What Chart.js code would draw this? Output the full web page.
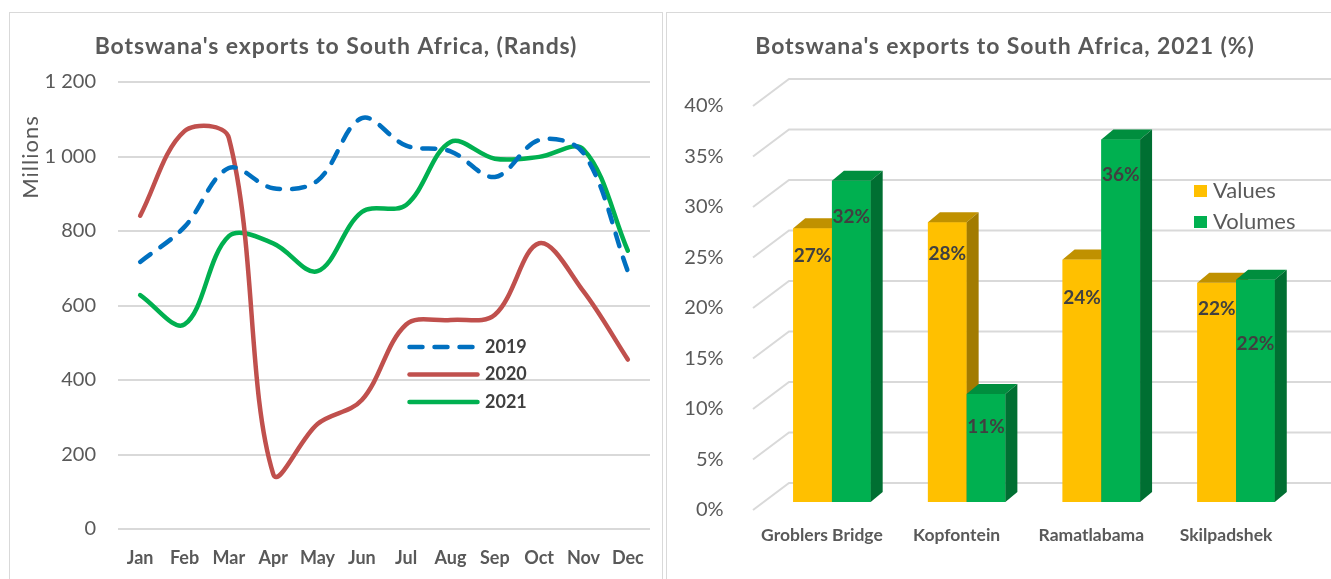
<!DOCTYPE html>
<html><head><meta charset="utf-8">
<script src="https://cdn.jsdelivr.net/npm/chart.js@4.4.1/dist/chart.umd.min.js"></script>
<style>
html,body{margin:0;padding:0;background:#fff;width:1331px;height:579px;overflow:hidden;font-family:Lato,sans-serif;}
.panel{position:absolute;border:1.5px solid #d9d9d9;box-sizing:border-box;}
.wrap{position:absolute;top:0;}
</style></head><body>
<div class="panel" style="left:9px;top:12px;width:654px;height:600px"></div>
<div class="panel" style="left:666px;top:12px;width:700px;height:600px"></div>
<div class="wrap" style="left:0;width:665px;height:579px"><canvas id="c1" width="665" height="579"></canvas></div>
<div class="wrap" style="left:665px;width:666px;height:579px"><canvas id="c2" width="666" height="579"></canvas></div>
<script>
// ---------- data: left chart ----------
const months = ['Jan','Feb','Mar','Apr','May','Jun','Jul','Aug','Sep','Oct','Nov','Dec'];
const exports2019 = [717, 811, 969, 915, 935, 1103, 1029, 1014, 945, 1044, 1009, 692];
const exports2020 = [841, 1068, 1050, 148, 282, 346, 549, 561, 575, 767, 638, 455];
const exports2021 = [628, 549, 786, 767, 692, 851, 870, 1039, 994, 999, 1019, 747];
const randTickLabels = ['0','200','400','600','800','1 000','1 200'];
const leftTitle = "Botswana's exports to South Africa, (Rands)";
const leftAxisTitle = 'Millions';

// ---------- data: right chart ----------
const crossings = ['Groblers Bridge','Kopfontein','Ramatlabama','Skilpadshek'];
const valuesShare = [27.1, 27.7, 24.0, 21.7];
const volumesShare = [31.8, 10.7, 35.9, 22.0];
const pctTickLabels = ['0%','5%','10%','15%','20%','25%','30%','35%','40%'];
const rightTitle = "Botswana's exports to South Africa, 2021 (%)";

const GREY = '#595959';

function drawTitle(ctx, text, x, y) {
  ctx.save();
  ctx.fillStyle = GREY;
  ctx.font = 'bold 23px Lato';
  ctx.letterSpacing = '0.9px';
  ctx.textAlign = 'center';
  ctx.textBaseline = 'middle';
  ctx.fillText(text, x, y);
  ctx.restore();
}

// ---------- left chart plugins ----------
const leftDecor = {
  id: 'leftDecor',
  afterDraw(chart) {
    const ctx = chart.ctx;
    drawTitle(ctx, leftTitle, 336, 47);
    ctx.save();
    ctx.fillStyle = GREY;
    ctx.textAlign = 'center';
    ctx.textBaseline = 'middle';
    // axis title
    ctx.save();
    ctx.translate(31, 157);
    ctx.rotate(-Math.PI / 2);
    ctx.font = '22px Lato';
    ctx.letterSpacing = '1px';
    ctx.fillText(leftAxisTitle, 0, 0);
    ctx.restore();
    // legend
    chart.data.datasets.forEach((ds, i) => {
      const y = 347 + 27.5 * i;
      ctx.beginPath();
      ctx.strokeStyle = ds.borderColor;
      ctx.lineWidth = ds.borderWidth;
      ctx.lineCap = 'round';
      ctx.setLineDash(ds.borderDash || []);
      ctx.moveTo(409.5, y);
      ctx.lineTo(477.5, y);
      ctx.stroke();
      ctx.setLineDash([]);
      ctx.fillStyle = '#404040';
      ctx.font = 'bold 18px Lato';
      ctx.textAlign = 'left';
      ctx.fillText(ds.label, 485, y);
    });
    ctx.restore();
  }
};

new Chart(document.getElementById('c1'), {
  type: 'line',
  data: {
    labels: months,
    datasets: [
      {label:'2019', data:exports2019, borderColor:'#0070C0', borderWidth:4.5, borderDash:[13,12], borderCapStyle:'round', tension:0.35, pointRadius:0, fill:false},
      {label:'2020', data:exports2020, borderColor:'#C0504D', borderWidth:4.5, borderCapStyle:'round', tension:0.35, pointRadius:0, fill:false},
      {label:'2021', data:exports2021, borderColor:'#00B050', borderWidth:4.5, borderCapStyle:'round', tension:0.35, pointRadius:0, fill:false}
    ]
  },
  options: {
    responsive:false, animation:false, devicePixelRatio:1,
    layout:{padding:{top:82, right:15, left:0, bottom:0}},
    plugins:{legend:{display:false}, tooltip:{enabled:false}, title:{display:false}},
    scales:{
      x:{offset:true, grid:{display:false}, border:{display:false},
         ticks:{color:GREY, font:{family:'Lato', size:18, weight:'bold'}, padding:10, maxRotation:0, autoSkip:false},
         afterFit(s){ s.height = 50; }},
      y:{min:0, max:1200,
         ticks:{stepSize:200, color:GREY, font:{family:'Lato', size:20}, padding:22, callback:(v,i)=>randTickLabels[i]},
         grid:{color:'#d9d9d9', lineWidth:2, drawTicks:false}, border:{display:false},
         afterFit(s){ s.width = 118; }}
    }
  },
  plugins:[leftDecor]
});

// ---------- right chart plugins ----------
const DX = 12, DY = 10;
const wallGrid = {
  id: 'wallGrid',
  beforeDatasetsDraw(chart) {
    const ctx = chart.ctx, ys = chart.scales.y, a = chart.chartArea;
    ctx.save();
    ctx.strokeStyle = '#d9d9d9';
    ctx.lineWidth = 2;
    ys.ticks.forEach(t => {
      const yb = ys.getPixelForValue(t.value);
      ctx.beginPath();
      ctx.moveTo(a.left - 11.6, yb + 8);
      ctx.lineTo(a.left + 24.4, yb - 19);
      ctx.lineTo(chart.width, yb - 19);
      ctx.stroke();
    });
    ctx.restore();
  }
};
// paints the bars as 3D prisms (front, top, side) from the bar elements, series in legend order
const depth = {
  id: 'depth',
  afterDatasetsDraw(chart) {
    const ctx = chart.ctx;
    ctx.save();
    const n = chart.data.labels.length;
    for (let i = 0; i < n; i++) {
      chart.data.datasets.forEach((ds, di) => {
        const el = chart.getDatasetMeta(di).data[i];
        const p = el.getProps(['x','y','base','width'], true);
        const l = p.x - p.width/2, r = p.x + p.width/2;
        ctx.fillStyle = ds.backgroundColor;
        ctx.fillRect(l, p.y, p.width, p.base - p.y);
        ctx.fillStyle = ds.topColor;
        ctx.beginPath();
        ctx.moveTo(l, p.y); ctx.lineTo(l + DX, p.y - DY); ctx.lineTo(r + DX, p.y - DY); ctx.lineTo(r, p.y);
        ctx.closePath(); ctx.fill();
        ctx.fillStyle = ds.sideColor;
        ctx.beginPath();
        ctx.moveTo(r, p.y); ctx.lineTo(r + DX, p.y - DY); ctx.lineTo(r + DX, p.base - DY); ctx.lineTo(r, p.base);
        ctx.closePath(); ctx.fill();
      });
    }
    ctx.restore();
  }
};
const labelShift = [[28, 32, 38, 26], [36, 33, 35, 64]];
const rightDecor = {
  id: 'rightDecor',
  afterDraw(chart) {
    const ctx = chart.ctx;
    ctx.save();
    ctx.textAlign = 'center';
    ctx.textBaseline = 'middle';
    // data labels
    ctx.font = 'bold 19px Lato';
    ctx.fillStyle = '#404040';
    chart.data.datasets.forEach((ds, di) => {
      chart.getDatasetMeta(di).data.forEach((el, i) => {
        const p = el.getProps(['x','y'], true);
        ctx.fillText(Math.round(ds.data[i]) + '%', p.x, p.y + labelShift[di][i]);
      });
    });
    // legend
    ctx.textAlign = 'left';
    ctx.font = '22px Lato';
    chart.data.datasets.forEach((ds, i) => {
      const y = 191 + 31 * i;
      ctx.fillStyle = ds.backgroundColor;
      ctx.fillRect(529, y - 6, 13, 12);
      ctx.fillStyle = GREY;
      ctx.fillText(ds.label, 548, y);
    });
    ctx.restore();
    drawTitle(ctx, rightTitle, 340, 47);
  }
};

new Chart(document.getElementById('c2'), {
  type: 'bar',
  data: {
    labels: crossings,
    datasets: [
      {label:'Values', data:valuesShare, backgroundColor:'#FFC000', topColor:'#C09100', sideColor:'#A27B00', borderWidth:0, categoryPercentage:0.575, barPercentage:1},
      {label:'Volumes', data:volumesShare, backgroundColor:'#00B050', topColor:'#008E3E', sideColor:'#006F32', borderWidth:0, categoryPercentage:0.575, barPercentage:1}
    ]
  },
  options: {
    responsive:false, animation:false, devicePixelRatio:1,
    layout:{padding:{top:98, right:27.6, left:0, bottom:0}},
    plugins:{legend:{display:false}, tooltip:{enabled:false}, title:{display:false}},
    scales:{
      x:{grid:{display:false}, border:{display:false},
         ticks:{color:GREY, font:{family:'Lato', size:17.5, weight:'bold'}, padding:15, labelOffset:-10, maxRotation:0, autoSkip:false},
         afterFit(s){ s.height = 77; }},
      y:{min:0, max:40, grid:{display:false}, border:{display:false},
         ticks:{stepSize:5, color:GREY, font:{family:'Lato', size:20}, padding:33, labelOffset:8, callback:(v,i)=>pctTickLabels[i]},
         afterFit(s){ s.width = 99.6; }}
    }
  },
  plugins:[wallGrid, depth, rightDecor]
});
</script>
</body></html>
